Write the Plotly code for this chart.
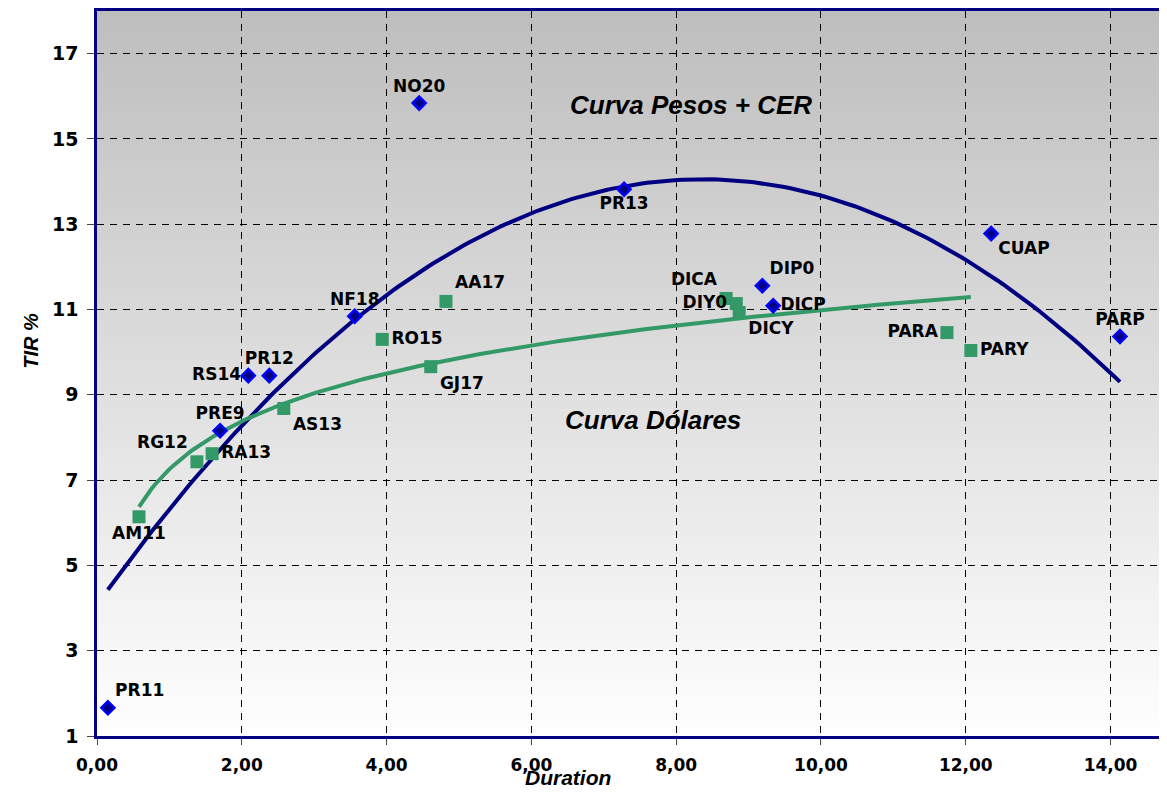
import numpy as np
import plotly.graph_objects as go

# ---- data ----
pesos_names = ["PR11", "NO20", "PR13", "NF18", "RS14", "PR12", "PRE9", "DIP0", "DICP", "CUAP", "PARP"]
pesos_dur = [0.15, 4.45, 7.28, 3.56, 2.09, 2.38, 1.70, 9.19, 9.34, 12.35, 14.13]
pesos_tir = [1.66, 15.84, 13.82, 10.84, 9.45, 9.45, 8.16, 11.56, 11.09, 12.78, 10.37]

dol_names = ["AM11", "RG12", "RA13", "AS13", "RO15", "AA17", "GJ17", "DICA", "DIY0", "DICY", "PARA", "PARY"]
dol_dur = [0.58, 1.38, 1.59, 2.58, 3.94, 4.82, 4.61, 8.69, 8.83, 8.87, 11.74, 12.07]
dol_tir = [6.14, 7.43, 7.62, 8.68, 10.30, 11.19, 9.66, 11.26, 11.14, 10.93, 10.46, 10.04]

x_ticks = [0, 2, 4, 6, 8, 10, 12, 14]
y_ticks = [1, 3, 5, 7, 9, 11, 13, 15, 17]

# label placement (style)
pesos_pos = ["top right", "top center", "bottom center", "top center", "middle left", "top center",
             "top center", "top right", "middle right", "bottom right", "top center"]
dol_pos = ["bottom center", "top left", "middle right", "bottom right", "middle right", "top right",
           "bottom right", "top left", "middle left", "bottom right", "middle left", "middle right"]

NAVY = "#000080"
GREEN = "#339966"
LABEL_FONT = dict(family="DejaVu Sans", size=17, color="black", weight="bold")

fig = go.Figure()

# trend lines (Excel-style): polynomial order 2 for pesos, logarithmic for dolares
px_ = np.array(pesos_dur); py_ = np.array(pesos_tir)
c2 = np.polyfit(px_, py_, 2)
xs = np.linspace(px_.min(), px_.max(), 200)
fig.add_trace(go.Scatter(x=xs, y=np.polyval(c2, xs), mode="lines",
                         line=dict(color=NAVY, width=4), hoverinfo="skip", showlegend=False))

dx = np.array(dol_dur); dy = np.array(dol_tir)
cl = np.polyfit(np.log(dx), dy, 1)
xs2 = np.linspace(dx.min(), dx.max(), 200)
fig.add_trace(go.Scatter(x=xs2, y=cl[0] * np.log(xs2) + cl[1], mode="lines",
                         line=dict(color=GREEN, width=4), hoverinfo="skip", showlegend=False))

fig.add_trace(go.Scatter(x=pesos_dur, y=pesos_tir, mode="markers+text", text=pesos_names,
                         textposition=pesos_pos, textfont=LABEL_FONT,
                         marker=dict(symbol="diamond", size=10, color=NAVY,
                                     line=dict(color="#0000FF", width=2.5)),
                         showlegend=False))
fig.add_trace(go.Scatter(x=dol_dur, y=dol_tir, mode="markers+text", text=dol_names,
                         textposition=dol_pos, textfont=LABEL_FONT,
                         marker=dict(symbol="square", size=13, color=GREEN,
                                     line=dict(color=GREEN, width=0)),
                         showlegend=False))

# gradient background bands
shapes = []
n = 80
top = np.array([190, 190, 190]); bot = np.array([255, 255, 255])
for i in range(n):
    t = (i + 0.5) / n
    c = top + (bot - top) * t
    shapes.append(dict(type="rect", xref="paper", yref="paper", x0=0, x1=1,
                       y0=1 - (i + 1) / n, y1=1 - i / n + 0.001, layer="below",
                       fillcolor="rgb(%d,%d,%d)" % tuple(c.astype(int)), line=dict(width=0)))

annotations = [
    dict(x=8.2, y=15.79, xref="x", yref="y", text="<b><i>Curva Pesos + CER</i></b>", showarrow=False,
         font=dict(family="Liberation Sans", size=26, color="black")),
    dict(x=7.68, y=8.42, xref="x", yref="y", text="<b><i>Curva Dólares</i></b>", showarrow=False,
         font=dict(family="Liberation Sans", size=26, color="black")),
    dict(x=6.5, y=0, xref="x", yref="paper", yshift=-55, text="<b><i>Duration</i></b>", showarrow=False,
         font=dict(family="Liberation Sans", size=21, color="black")),
    dict(x=0, y=10.27, xref="paper", yref="y", xshift=-66, xanchor="center", yanchor="middle",
         textangle=-90, text="<b><i>TIR %</i></b>",
         showarrow=False, font=dict(family="Liberation Sans", size=20, color="black")),
]

fig.update_layout(
    width=1167, height=793,
    margin=dict(l=89, r=0, t=3, b=65),
    paper_bgcolor="white", plot_bgcolor="white",
    separators=",.",
    shapes=shapes, annotations=annotations,
    showlegend=False,
)
fig.update_xaxes(range=[0, 14.89], tickvals=x_ticks, tickformat=".2f", automargin=False,
                 showgrid=True, gridcolor="black", gridwidth=1, griddash="7px,6px",
                 showline=True, linecolor=NAVY, linewidth=2.5, mirror=True,
                 ticks="outside", ticklen=6, tickcolor="#444", ticklabelstandoff=6,
                 tickfont=dict(family="DejaVu Sans", size=17, color="black", weight="bold"),
                 zeroline=False)
fig.update_yaxes(range=[1, 18], tickvals=y_ticks, automargin=False,
                 showgrid=True, gridcolor="black", gridwidth=1, griddash="7px,6px",
                 showline=True, linecolor=NAVY, linewidth=2.5,
                 ticks="outside", ticklen=7, tickcolor="#444", ticklabelstandoff=5,
                 tickfont=dict(family="DejaVu Sans", size=19, color="black", weight="bold"),
                 zeroline=False)

fig.write_html("out.html")
